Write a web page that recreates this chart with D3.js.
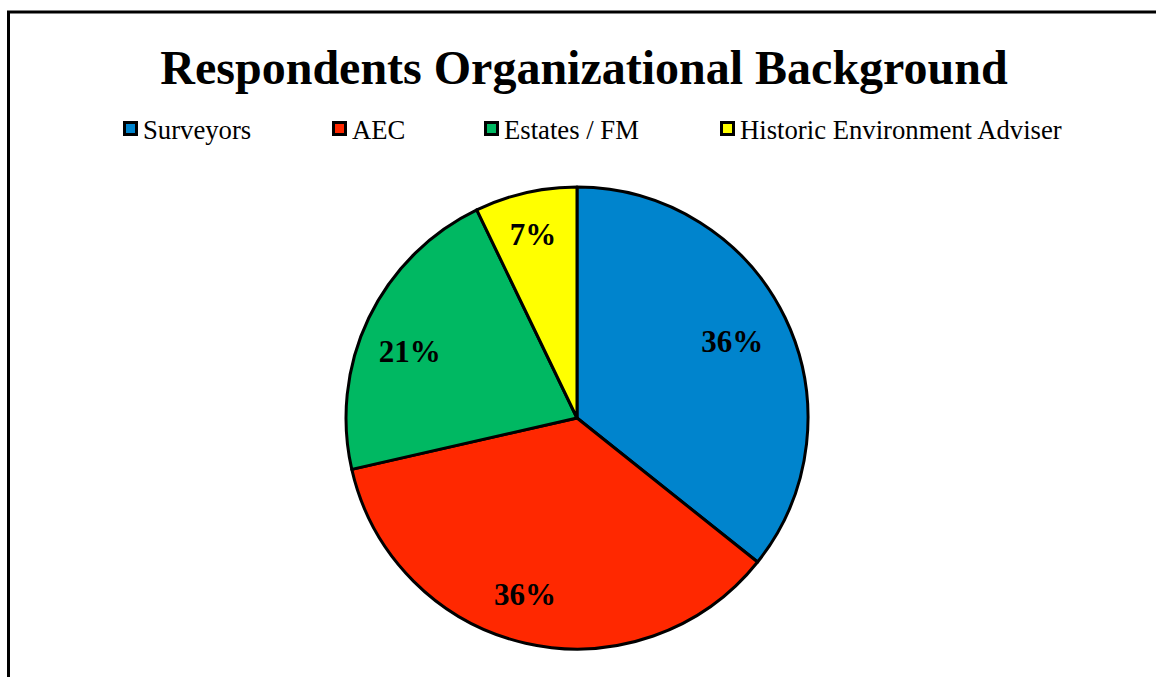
<!DOCTYPE html>
<html>
<head>
<meta charset="utf-8">
<script src="https://cdn.jsdelivr.net/npm/d3@7"></script>
<style>
  html, body { margin: 0; padding: 0; background: #fff; }
  svg { display: block; }
</style>
</head>
<body>
<svg id="chart" width="1156" height="677"></svg>
<script>
// ---- data ----
const categories = ["Surveyors", "AEC", "Estates / FM", "Historic Environment Adviser"];
const counts = [5, 5, 3, 1];
const colors = ["#0084CD", "#FF2800", "#00B862", "#FFFF00"];

// layout helpers (not data)
const legendX = [123, 332, 484, 720];
const labelNudge = [[-7, 1], [-12, 0], [-5, 11], [-4, -8]];

const data = categories.map((c, i) => ({ name: c, value: counts[i], color: colors[i] }));
const total = d3.sum(counts);

const svg = d3.select("#chart");
const font = "'Liberation Serif', 'Times New Roman', serif";

// frame
svg.append("rect")
  .attr("x", 8.5).attr("y", 12)
  .attr("width", 1200).attr("height", 800)
  .attr("fill", "none").attr("stroke", "#000").attr("stroke-width", 3);

// title
svg.append("text")
  .attr("x", 584).attr("y", 84)
  .attr("text-anchor", "middle")
  .style("font-family", font).style("font-weight", "bold").style("font-size", "48px")
  .text("Respondents Organizational Background");

// legend
const lg = svg.selectAll("g.legend").data(data).join("g")
  .attr("class", "legend")
  .attr("transform", (d, i) => `translate(${legendX[i]}, 121)`);

lg.append("rect")
  .attr("x", 1.5).attr("y", 1.5)
  .attr("width", 12).attr("height", 12)
  .attr("fill", d => d.color)
  .attr("stroke", "#000").attr("stroke-width", 3);

lg.append("text")
  .attr("x", 20).attr("y", 18)
  .style("font-family", font).style("font-size", "26.7px")
  .text(d => d.name);

// pie
const cx = 577, cy = 418, r = 231;
const pie = d3.pie().value(d => d.value).sort(null);
const arc = d3.arc().innerRadius(0).outerRadius(r);
const labelArc = d3.arc().innerRadius(r * 0.78).outerRadius(r * 0.78);

const g = svg.append("g").attr("transform", `translate(${cx},${cy})`);
const arcs = pie(data);

g.selectAll("path").data(arcs).join("path")
  .attr("d", arc)
  .attr("fill", d => d.data.color)
  .attr("stroke", "#000").attr("stroke-width", 3)
  .attr("stroke-linejoin", "round");

g.selectAll("text.lbl").data(arcs).join("text")
  .attr("class", "lbl")
  .attr("transform", (d, i) => {
    const [x, y] = labelArc.centroid(d);
    return `translate(${x + labelNudge[i][0]},${y + labelNudge[i][1]})`;
  })
  .attr("text-anchor", "middle")
  .attr("dy", "0.35em")
  .style("font-family", font).style("font-weight", "bold").style("font-size", "31px")
  .text(d => Math.round(d.data.value / total * 100) + "%");
</script>
</body>
</html>
